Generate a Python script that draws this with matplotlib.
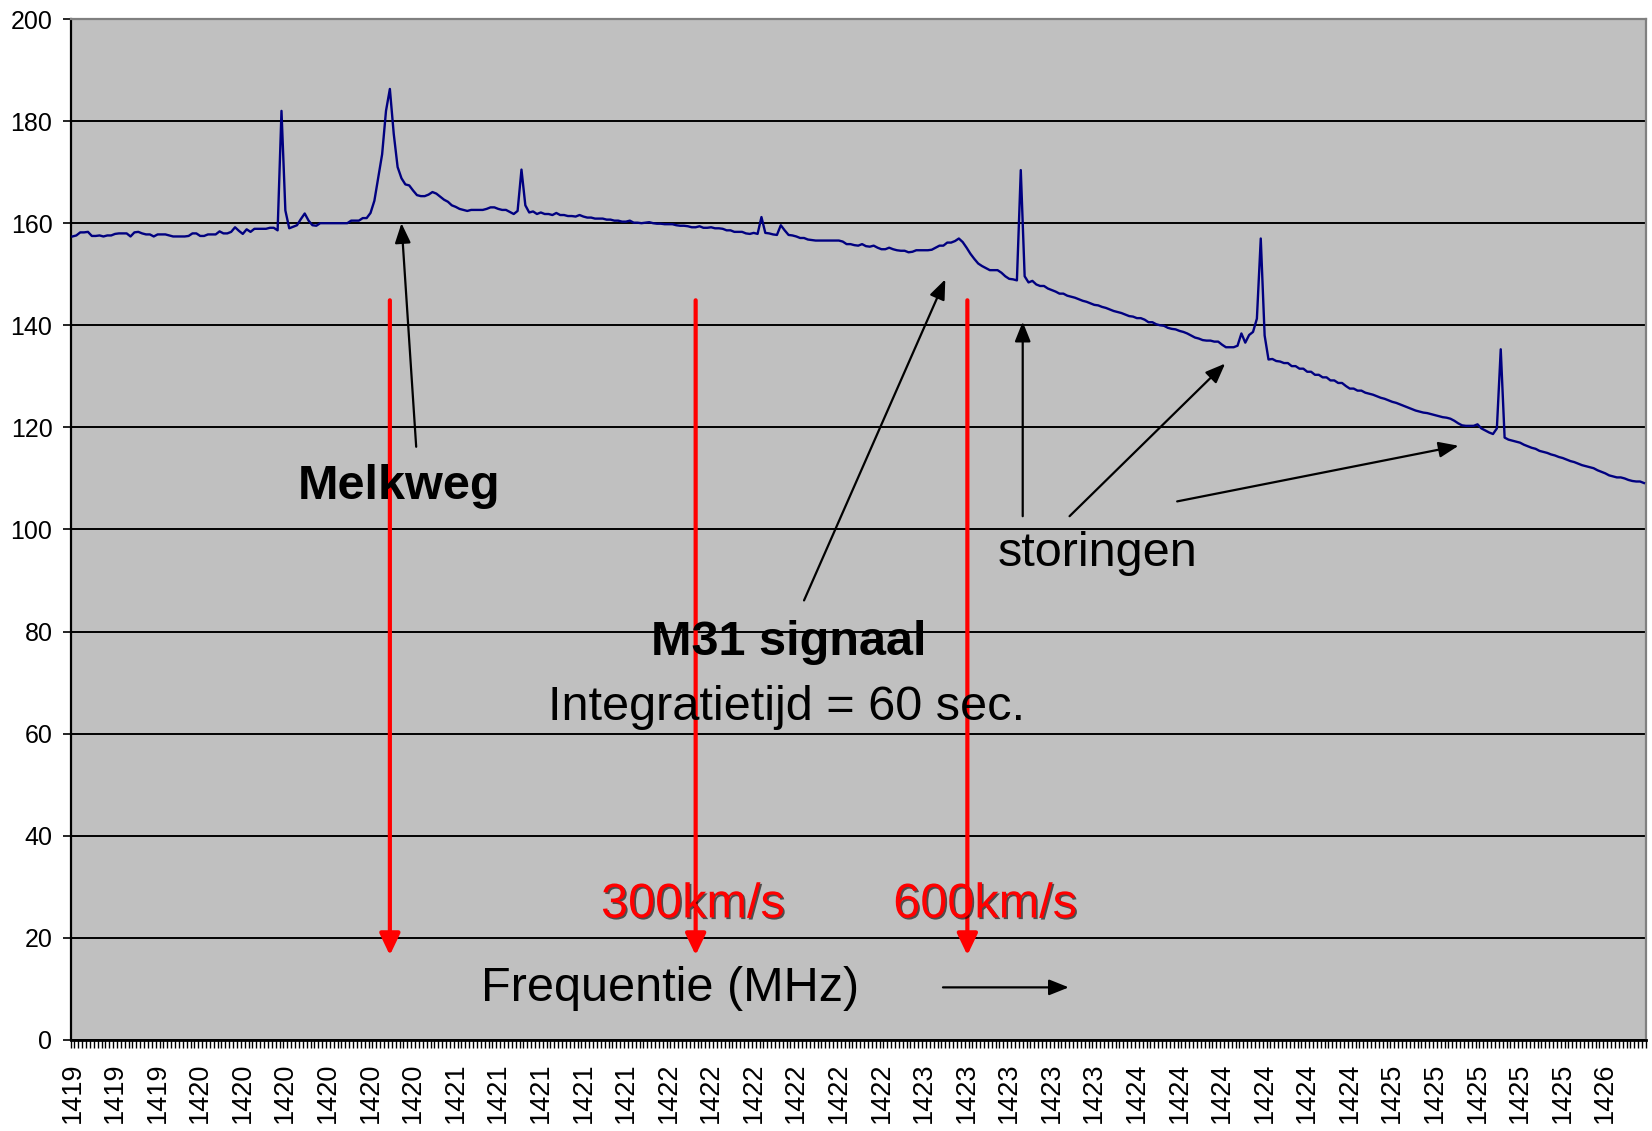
# Radio spectrum of M31 (Melkweg + M31 signaal), recreated from Excel chart.
import numpy as np
import matplotlib.pyplot as plt
import matplotlib.patheffects as pe

plt.rcParams['font.family'] = 'Liberation Sans'

power = [
    157.4, 157.6, 158.2, 158.2, 158.3, 157.5, 157.5, 157.6, 157.4, 157.6,
    157.6, 157.9, 158.0, 158.0, 158.0, 157.4, 158.2, 158.3, 158.0, 157.8,
    157.8, 157.4, 157.8, 157.8, 157.8, 157.6, 157.4, 157.4, 157.4, 157.4,
    157.5, 158.0, 158.0, 157.5, 157.5, 157.8, 157.8, 157.8, 158.4, 158.0,
    158.0, 158.3, 159.2, 158.5, 157.9, 158.8, 158.3, 158.9, 158.9, 158.9,
    158.9, 159.1, 159.1, 158.6, 182.0, 162.5, 159.0, 159.3, 159.6, 160.8,
    161.9, 160.5, 159.6, 159.5, 160.0, 160.0, 160.0, 160.0, 160.0, 160.0,
    160.0, 160.0, 160.5, 160.5, 160.5, 161.0, 161.0, 162.0, 164.4, 169.0,
    173.5, 182.0, 186.3, 177.5, 171.0, 168.8, 167.6, 167.4, 166.4, 165.5,
    165.3, 165.3, 165.6, 166.1, 165.8, 165.2, 164.6, 164.2, 163.5, 163.2,
    162.8, 162.6, 162.4, 162.6, 162.6, 162.6, 162.6, 162.8, 163.1, 163.1,
    162.8, 162.6, 162.6, 162.2, 161.8, 162.4, 170.5, 163.5, 162.1, 162.3,
    161.8, 162.1, 161.8, 161.8, 161.6, 162.0, 161.6, 161.6, 161.4, 161.4,
    161.3, 161.6, 161.3, 161.1, 161.1, 160.9, 160.9, 160.9, 160.7, 160.7,
    160.5, 160.5, 160.3, 160.3, 160.5, 160.1, 160.1, 160.0, 160.1, 160.2,
    160.0, 159.9, 159.9, 159.8, 159.8, 159.8, 159.6, 159.5, 159.5, 159.4,
    159.2, 159.2, 159.4, 159.1, 159.1, 159.2, 159.0, 159.0, 158.9, 158.6,
    158.6, 158.3, 158.3, 158.3, 158.0, 157.9, 158.1, 157.9, 161.2, 158.1,
    158.0, 157.8, 157.7, 159.6, 158.6, 157.7, 157.6, 157.4, 157.1, 157.1,
    156.8, 156.7, 156.6, 156.6, 156.6, 156.6, 156.6, 156.6, 156.6, 156.4,
    155.9, 155.9, 155.7, 155.6, 155.9, 155.5, 155.4, 155.6, 155.2, 154.9,
    154.9, 155.2, 154.9, 154.7, 154.6, 154.6, 154.3, 154.4, 154.7, 154.7,
    154.7, 154.7, 154.8, 155.2, 155.6, 155.6, 156.2, 156.2, 156.5, 157.0,
    156.3, 155.2, 154.0, 153.0, 152.1, 151.6, 151.2, 150.8, 150.8, 150.8,
    150.3, 149.6, 149.1, 149.0, 148.8, 170.4, 149.6, 148.4, 148.7, 148.0,
    147.7, 147.7, 147.2, 146.9, 146.6, 146.2, 146.2, 145.8, 145.6, 145.4,
    145.1, 144.8, 144.6, 144.3, 144.0, 143.9, 143.6, 143.4, 143.1, 142.8,
    142.6, 142.4, 142.1, 141.8, 141.7, 141.4, 141.4, 141.1, 140.6, 140.6,
    140.2, 140.0, 139.9, 139.5, 139.3, 139.2, 138.9, 138.7, 138.4, 138.0,
    137.6, 137.4, 137.1, 137.0, 137.0, 136.8, 136.8, 136.2, 135.7, 135.7,
    135.7, 136.0, 138.4, 136.6, 138.1, 138.7, 141.3, 157.0, 138.0, 133.3,
    133.4, 133.0, 132.9, 132.6, 132.6, 132.0, 132.0, 131.5, 131.5, 130.9,
    130.9, 130.3, 130.3, 129.8, 129.8, 129.2, 129.2, 128.7, 128.7, 128.1,
    127.6, 127.6, 127.2, 127.2, 126.8, 126.6, 126.4, 126.1, 125.8, 125.6,
    125.3, 125.0, 124.8, 124.5, 124.2, 123.9, 123.6, 123.3, 123.1, 122.9,
    122.8, 122.6, 122.4, 122.2, 122.0, 121.9, 121.7, 121.3, 120.8, 120.4,
    120.3, 120.3, 120.3, 120.6, 119.8, 119.4, 119.0, 118.7, 119.8, 135.3,
    118.0, 117.6, 117.4, 117.2, 117.0, 116.6, 116.3, 116.0, 115.8, 115.4,
    115.2, 115.0, 114.7, 114.5, 114.2, 114.0, 113.7, 113.4, 113.2, 112.9,
    112.6, 112.4, 112.2, 112.0, 111.6, 111.3, 111.0, 110.6, 110.4, 110.2,
    110.2, 110.0, 109.7, 109.5, 109.4, 109.4, 109.1,
]

# frequency labels (MHz), shown every 11 channels
freq_labels = ['1419'] * 3 + ['1420'] * 6 + ['1421'] * 5 + ['1422'] * 6 + \
              ['1423'] * 5 + ['1424'] * 6 + ['1425'] * 5 + ['1426']
label_step = 11

y_ticks = [0, 20, 40, 60, 80, 100, 120, 140, 160, 180, 200]

n = len(power)
chan = np.arange(n)

fig = plt.figure(figsize=(16.52, 11.31), dpi=100)
ax = fig.add_axes([0.0427, 0.0805, 0.9536, 0.9027])
ax.set_facecolor('#C0C0C0')
ax.set_axisbelow(True)

ax.plot(chan, power, color='#000080', lw=1.7, zorder=3)

ax.set_xlim(-0.5, n - 0.5)
ax.set_ylim(0, 200)
ax.set_yticks(y_ticks)
ax.set_yticklabels([str(v) for v in y_ticks], fontsize=18)
ax.yaxis.grid(True, color='black', lw=1.4)
ax.tick_params(axis='y', length=6, width=1.2, pad=7, direction='out')

ax.set_xticks(np.arange(len(freq_labels)) * label_step)
ax.set_xticklabels(freq_labels, rotation=90, fontsize=19.5)
ax.set_xticks(np.arange(-0.5, n, 1), minor=True)
ax.tick_params(axis='x', which='major', length=0, pad=16)
ax.tick_params(axis='x', which='minor', length=6, width=1.0, direction='out')

ax.spines['left'].set_linewidth(1.6)
ax.spines['bottom'].set_linewidth(2)
for s in ['top', 'right']:
    ax.spines[s].set_color('#808080')
    ax.spines[s].set_linewidth(1.6)

# red velocity arrows
red_head = '-|>,head_length=1.3,head_width=0.62'
for xr in [82.0, 161.0, 231.2]:
    ax.annotate('', xy=(xr, 16.6), xytext=(xr, 144.9),
                arrowprops=dict(arrowstyle=red_head, color='red', lw=3,
                                mutation_scale=10, shrinkA=0, shrinkB=0))

# black pointer arrows
blk_head = '-|>,head_length=1.2,head_width=0.48'
arrows = [((88.8, 116.2), (85.0, 160.0)),
          ((189.0, 86.1), (225.5, 149.0)),
          ((245.5, 102.6), (245.5, 140.7)),
          ((257.6, 102.6), (297.8, 132.5)),
          ((285.4, 105.5), (358.1, 116.4)),
          ((224.9, 10.3), (257.4, 10.3))]
for tail, tip in arrows:
    ax.annotate('', xy=tip, xytext=tail,
                arrowprops=dict(arrowstyle=blk_head, color='black', lw=1.6,
                                mutation_scale=10, shrinkA=0, shrinkB=0))

ax.text(84.4, 105.9, 'Melkweg', fontsize=35, fontweight='bold',
        ha='center', va='baseline')
ax.text(185.0, 75.4, 'M31 signaal', fontsize=35, fontweight='bold',
        ha='center', va='baseline')
ax.text(184.6, 62.7, 'Integratietijd = 60 sec.', fontsize=35,
        ha='center', va='baseline')
ax.text(264.8, 92.9, 'storingen', fontsize=35, ha='center', va='baseline')
ax.text(154.3, 7.6, 'Frequentie (MHz)', fontsize=35, ha='center', va='baseline')

shadow = [pe.withSimplePatchShadow(offset=(1.2, -1.2), shadow_rgbFace='black',
                                   alpha=0.6)]
ax.text(160.3, 24.0, '300km/s', fontsize=35, color='red', ha='center',
        va='baseline', path_effects=shadow, zorder=4)
ax.text(235.8, 24.0, '600km/s', fontsize=35, color='red', ha='center',
        va='baseline', path_effects=shadow, zorder=4)

plt.savefig('out.png', dpi=100)
